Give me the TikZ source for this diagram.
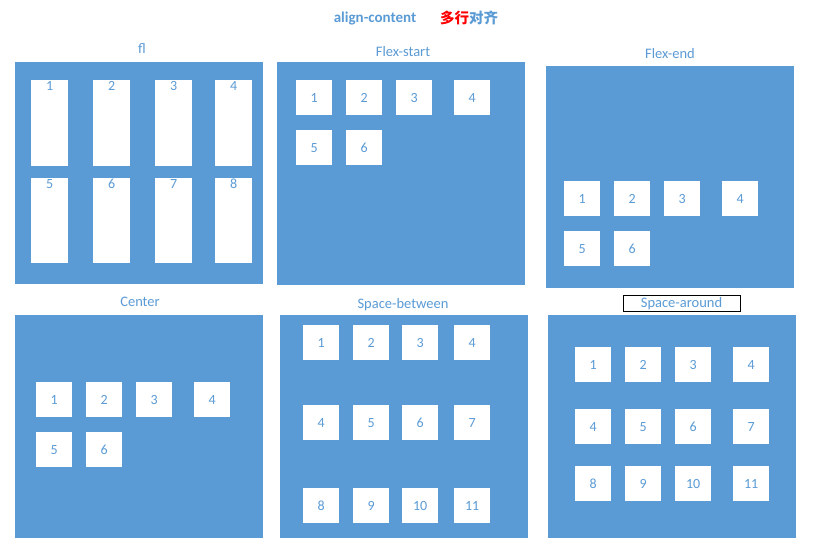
\documentclass[tikz,border=0pt]{standalone}
\usepackage{fontspec}
\setmainfont{Carlito}
\newfontfamily\cjk{Noto Sans CJK SC}
\definecolor{pblue}{HTML}{5B9BD5}
\definecolor{tblue}{HTML}{5B9BD5}
\definecolor{tred}{HTML}{FF0000}
\begin{document}
\begin{tikzpicture}[x=1pt,y=-1pt,
  panel/.style={fill=pblue,draw=none,anchor=north west,inner sep=0pt},
  bx/.style={fill=white,draw=none,anchor=north west,inner sep=0pt,minimum width=36pt,minimum height=35pt,text=tblue,font=\fontsize{14}{16}\selectfont},
  tall/.style={fill=white,draw=none,anchor=north west,inner sep=0pt,minimum width=37pt},
  num/.style={text=tblue,font=\fontsize{14}{16}\selectfont,inner sep=0pt,anchor=north},
  ptitle/.style={text=tblue,font=\fontsize{14.5}{16}\selectfont,inner sep=0pt}]
\useasboundingbox (0,0) rectangle (820,550);
\fill[white] (0,0) rectangle (820,550);
% title
\node[text=tblue,font=\bfseries\fontsize{15}{17}\selectfont,inner sep=0pt] (title) at (375,19) {align-content};
\node[font=\cjk\bfseries\fontsize{14.5}{16}\selectfont,inner sep=0pt] (titlecn) at (469,18) {\textcolor{tred}{多行}\textcolor{tblue}{对齐}};
% panels
\node[panel,minimum width=248pt,minimum height=222pt] (pfl) at (15,62) {};
\node[panel,minimum width=248pt,minimum height=223pt] (pfs) at (277,62) {};
\node[panel,minimum width=248pt,minimum height=222pt] (pfe) at (546,66) {};
\node[panel,minimum width=248pt,minimum height=223pt] (pce) at (15,315) {};
\node[panel,minimum width=248pt,minimum height=223pt] (psb) at (280,315) {};
\node[panel,minimum width=248pt,minimum height=223pt] (psa) at (548,315) {};
% panel titles
\node[ptitle] (tfl) at (142,49) {fl};
\node[ptitle] (tfs) at (403,52) {Flex-start};
\node[ptitle] (tfe) at (670,54) {Flex-end};
\node[ptitle] (tce) at (140,301.5) {Center};
\node[ptitle] (tsb) at (403,305) {Space-between};
\draw[black,fill=white,line width=0.8pt] (623,295) rectangle (740,311);
\node[ptitle] (tsa) at (681.5,304) {Space-around};
% fl boxes
\foreach \i/\x in {1/31,2/93,3/155,4/215}{
  \node[tall,minimum height=86pt] (fla\i) at (\x,80) {};
  \node[num] (flna\i) at ([yshift=-1pt]fla\i.north) {\i};
}
\foreach \i/\x [evaluate=\i as \j using int(\i+4)] in {1/31,2/93,3/155,4/215}{
  \node[tall,minimum height=85pt] (flb\i) at (\x,178) {};
  \node[num] (flnb\i) at ([yshift=-1pt]flb\i.north) {\j};
}
% flex-start
\foreach \i/\x in {1/296,2/346,3/396,4/454}{\node[bx] (fsa\i) at (\x,80) {\i};}
\foreach \i/\x in {5/296,6/346}{\node[bx] (fsb\i) at (\x,130) {\i};}
% flex-end
\foreach \i/\x in {1/564,2/614,3/664,4/722}{\node[bx] (fea\i) at (\x,181) {\i};}
\foreach \i/\x in {5/564,6/614}{\node[bx] (feb\i) at (\x,231) {\i};}
% center
\foreach \i/\x in {1/36,2/86,3/136,4/194}{\node[bx] (cea\i) at (\x,382) {\i};}
\foreach \i/\x in {5/36,6/86}{\node[bx] (ceb\i) at (\x,432) {\i};}
% space-between
\foreach \i/\x in {1/303,2/353,3/402,4/454}{\node[bx] (sba\i) at (\x,325) {\i};}
\foreach \i/\x in {4/303,5/353,6/402,7/454}{\node[bx] (sbb\i) at (\x,405) {\i};}
\foreach \i/\x in {8/303,9/353,10/402,11/454}{\node[bx] (sbc\i) at (\x,488) {\i};}
% space-around
\foreach \i/\x in {1/575,2/625,3/675,4/733}{\node[bx] (saa\i) at (\x,347) {\i};}
\foreach \i/\x in {4/575,5/625,6/675,7/733}{\node[bx] (sab\i) at (\x,409) {\i};}
\foreach \i/\x in {8/575,9/625,10/675,11/733}{\node[bx] (sac\i) at (\x,466) {\i};}
\end{tikzpicture}
\end{document}
